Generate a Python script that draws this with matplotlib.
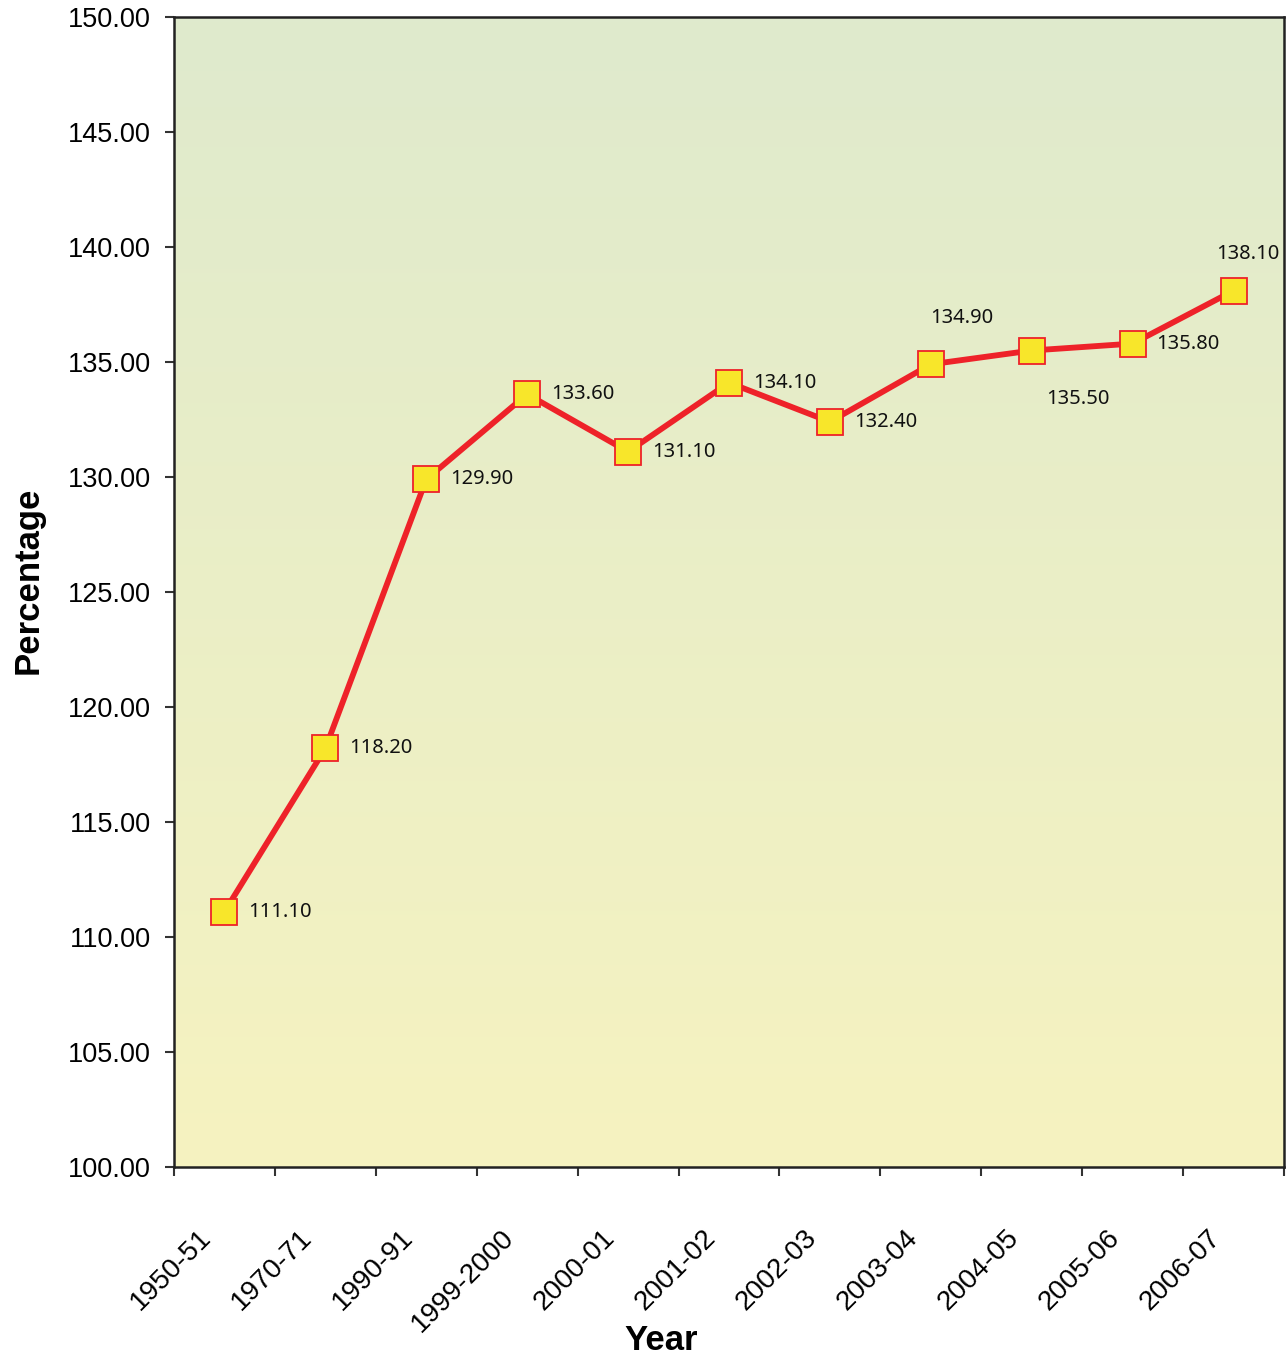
import numpy as np
import matplotlib
matplotlib.use("Agg")
import matplotlib.pyplot as plt
from matplotlib.colors import LinearSegmentedColormap
from matplotlib.transforms import ScaledTranslation

years = ["1950-51", "1970-71", "1990-91", "1999-2000", "2000-01", "2001-02",
         "2002-03", "2003-04", "2004-05", "2005-06", "2006-07"]
values = [111.1, 118.2, 129.9, 133.6, 131.1, 134.1, 132.4, 134.9, 135.5, 135.8, 138.1]
# label offsets in pixels (dx, dy) relative to each point
label_offsets = [(24, 0), (24, 0), (24, 0), (24, 0), (24, 0), (24, 0),
                 (24, 0), (31, 46), (46, -49), (24, 0), (14, 37)]

plt.rcParams['font.family'] = ['Liberation Sans', 'DejaVu Sans']

fig = plt.figure(figsize=(12.88, 13.61), dpi=100)
ax = fig.add_axes([174 / 1288, 1 - 1167 / 1361, 1110 / 1288, 1150 / 1361])

# gradient background (green top -> pale yellow bottom)
cmap = LinearSegmentedColormap.from_list("bg", ["#F6F3C0", "#DFEACD"])
grad = np.linspace(0, 1, 256).reshape(-1, 1)
ax.imshow(grad, extent=[0, 1, 0, 1], transform=ax.transAxes, aspect='auto',
          cmap=cmap, origin='lower', zorder=0)

x = np.arange(len(years))
ax.plot(x, values, color="#EE2229", linewidth=4.2, zorder=2,
        marker='s', markersize=19, markerfacecolor="#F8E62A",
        markeredgecolor="#EE2229", markeredgewidth=1.3)

for xi, v, (dx, dy) in zip(x, values, label_offsets):
    ax.annotate(f"{v:.2f}", (xi, v), xytext=(dx * 0.72, dy * 0.72),
                textcoords='offset points', ha='left' if dy == 0 else 'center',
                va='center', fontsize=14.5, family=['Noto Sans', 'DejaVu Sans'],
                color="#111111", zorder=3)

ax.set_xlim(-0.5, len(years) - 0.5)
ax.set_ylim(100, 150)
ax.set_yticks(np.arange(100, 151, 5))
ax.set_yticklabels([f"{t:.2f}" for t in np.arange(100, 151, 5)])

ax.set_xticks(np.arange(-0.5, len(years), 1.0))
ax.set_xticklabels([])
ax.set_xticks(x, minor=True)
ax.set_xticklabels(years, minor=True, rotation=45, ha='right', va='center',
                   rotation_mode='anchor')
ax.tick_params(axis='x', which='minor', length=0, pad=48, labelsize=20)
ax.tick_params(axis='x', which='major', length=6.5, width=1.5, direction='out', color="#333333")
ax.tick_params(axis='y', length=6.5, width=1.5, direction='out', pad=10,
               labelsize=19.5, color="#333333")
shift = ScaledTranslation(-17 / 100, 0, fig.dpi_scale_trans)
for lab in ax.get_xticklabels(minor=True):
    lab.set_transform(lab.get_transform() + shift)

for sp in ax.spines.values():
    sp.set_linewidth(1.8)
    sp.set_color("#222222")

fig.text(28 / 1288, 1 - 580 / 1361, "Percentage", rotation=90, ha='center', va='center',
         fontsize=25, fontweight='bold')
fig.text(661 / 1288, 1 - 1340 / 1361, "Year", ha='center', va='center',
         fontsize=25, fontweight='bold')

fig.savefig("out.png", dpi=100)
